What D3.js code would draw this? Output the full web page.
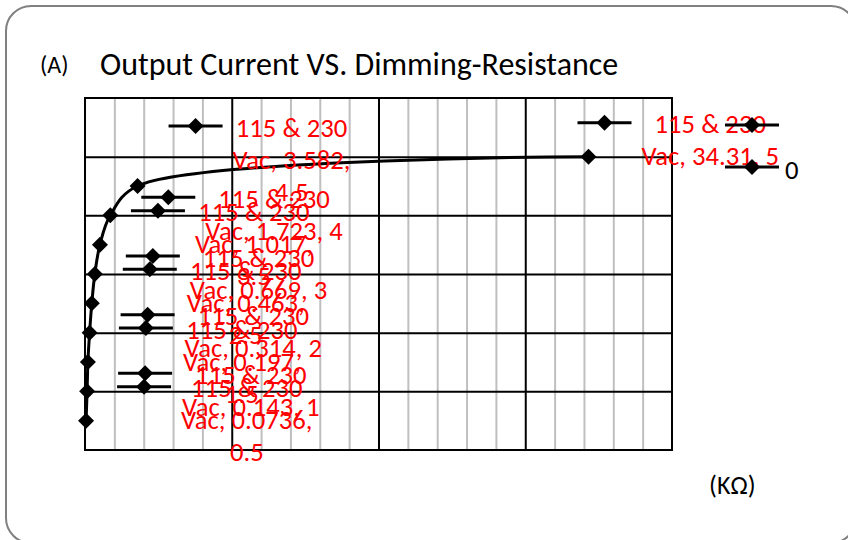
<!DOCTYPE html>
<html><head><meta charset="utf-8">
<script src="https://cdn.jsdelivr.net/npm/d3@7"></script>
<style>body{margin:0;background:#fff}</style>
</head><body><svg id="c" width="848" height="540"></svg>
<script>
// ---- data ----
const seriesName = "115 & 230 Vac";
const resistance = [0.0736, 0.143, 0.197, 0.314, 0.463, 0.669, 1.017, 1.723, 3.582, 34.31];
const current    = [0.5, 1, 1.5, 2, 2.5, 3, 3.5, 4, 4.5, 5];
const xMajorTicks = [10, 20, 30];
const xMinorTicks = [2,4,6,8,12,14,16,18,22,24,26,28,32,34,36,38];
const yTicks = [1, 2, 3, 4, 5];
const legendNames = ["", "0"];
const titleTag = "(A)";
const titleText = "Output Current VS. Dimming-Resistance";
const unitText = "(KΩ)";
// ---- layout nudges for data labels (px) ----
const labelShift = [[0,0],[0,0],[0,0],[0,0],[0,0],[0,0],[0,0],[0,0],[0,-26],[-42,-16]];

const FONT = "Carlito, Calibri, Lato, sans-serif";
const svg = d3.select("#c");
svg.append("rect").attr("x",6).attr("y",6).attr("width",850).attr("height",537)
  .attr("rx",25).attr("fill","#fff").attr("stroke","#808080").attr("stroke-width",2);

svg.append("text").attr("x",40).attr("y",73).attr("font-family",FONT).attr("font-size",24)
  .attr("fill","#000").text(titleTag);
svg.append("text").attr("x",100).attr("y",75).attr("font-family",FONT).attr("font-size",32)
  .attr("fill","#000").text(titleText);

const L = 85, R = 672, T = 98, B = 450;
const x = d3.scaleLinear().domain([0,40]).range([L,R]);
const y = d3.scaleLinear().domain([0,6]).range([B,T]);
const W = R-L, H = B-T;

const gMinor = svg.append("g").attr("transform",`translate(0,${B})`)
  .call(d3.axisBottom(x).tickValues(xMinorTicks).tickSize(-H).tickFormat(""));
gMinor.select(".domain").remove();
gMinor.selectAll("line").attr("stroke","#bfbfbf").attr("stroke-width",2);

const gMajor = svg.append("g").attr("transform",`translate(0,${B})`)
  .call(d3.axisBottom(x).tickValues(xMajorTicks).tickSize(-H).tickFormat(""));
gMajor.select(".domain").remove();
gMajor.selectAll("line").attr("stroke","#000").attr("stroke-width",2);

const gY = svg.append("g").attr("transform",`translate(${L},0)`)
  .call(d3.axisLeft(y).tickValues(yTicks).tickSize(-W).tickFormat(""));
gY.select(".domain").remove();
gY.selectAll("line").attr("stroke","#000").attr("stroke-width",2);

svg.append("rect").attr("x",L).attr("y",T).attr("width",W).attr("height",H)
  .attr("fill","none").attr("stroke","#000").attr("stroke-width",2);

const pts = resistance.map((r,i)=>({r, c: current[i], i}));
const line = d3.line().x(d=>x(d.r)).y(d=>y(d.c)).curve(d3.curveCatmullRom.alpha(0.5));
svg.append("path").datum(pts).attr("d",line).attr("fill","none")
  .attr("stroke","#000").attr("stroke-width",3).attr("stroke-linejoin","round");

const diamond = "M0,-8L8,0L0,8L-8,0Z";
svg.append("g").selectAll("path").data(pts).join("path")
  .attr("d",diamond).attr("fill","#000")
  .attr("transform",d=>`translate(${x(d.r)},${y(d.c)})`);

function drawKey(g, cx, cy){
  g.append("line").attr("x1",cx-27).attr("x2",cx+27).attr("y1",cy).attr("y2",cy)
    .attr("stroke","#000").attr("stroke-width",3);
  g.append("path").attr("d",diamond).attr("fill","#000").attr("transform",`translate(${cx},${cy})`);
}

// data labels
const FS = 26.7, LH = 32, WRAP = 150;
const measure = svg.append("text").attr("font-family",FONT).attr("font-size",FS).attr("visibility","hidden");
function tw(s){ measure.text(s); return measure.node().getComputedTextLength(); }
const gLab = svg.append("g");
pts.forEach(d=>{
  const words = `${seriesName}, ${d.r}, ${d.c}`.split(" ");
  const lines = []; let cur = "";
  words.forEach(w=>{
    const t = cur ? cur+" "+w : w;
    if (cur && tw(t) > WRAP){ lines.push(cur); cur = w; } else cur = t;
  });
  if (cur) lines.push(cur);
  const maxW = d3.max(lines, tw);
  const [sx, sy] = labelShift[d.i];
  const boxL = x(d.r) + 31 + sx;
  const cy = y(d.c) + sy;
  const n = lines.length;
  const g = gLab.append("g");
  const tcx = boxL + 64 + maxW/2;
  lines.forEach((ln,k)=>{
    const lcy = cy + (k-(n-1)/2)*LH;
    g.append("text").attr("x",tcx).attr("y",lcy+8.5).attr("text-anchor","middle")
      .attr("font-family",FONT).attr("font-size",FS).attr("fill","#ff0000").text(ln);
  });
  drawKey(g, boxL+27, cy-(n-1)/2*LH - 2);
});
measure.remove();

// legend
const gLeg = svg.append("g");
legendNames.forEach((nm,i)=>{
  const ky = 125 + i*42;
  drawKey(gLeg, 752, ky);
  gLeg.append("text").attr("x",785).attr("y",ky+12).attr("font-family",FONT).attr("font-size",FS)
    .attr("fill","#000").text(nm);
});

svg.append("text").attr("x",709).attr("y",494).attr("font-family",FONT).attr("font-size",26)
  .attr("fill","#000").text(unitText);
</script></body></html>
